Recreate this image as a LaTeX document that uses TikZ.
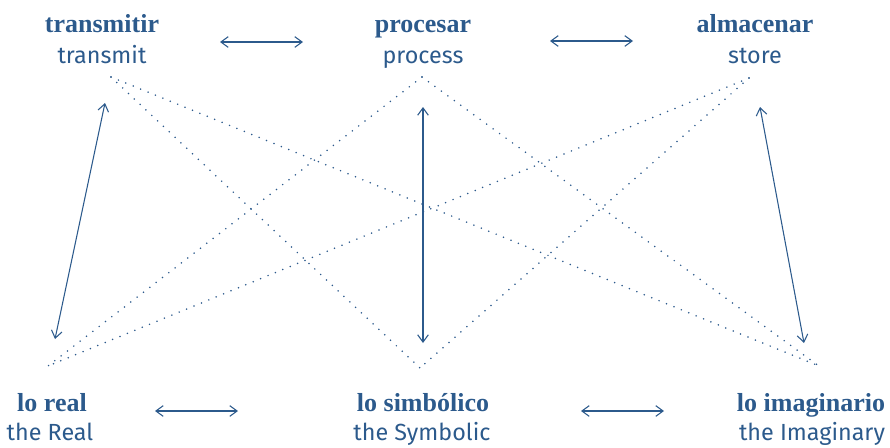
\documentclass[tikz,border=0pt]{standalone}
\usepackage{fontspec}
\setmainfont{Fira Sans}
\newfontfamily\headfont{Liberation Serif}
\usetikzlibrary{arrows.meta,positioning}
\definecolor{inkblue}{HTML}{2C5A8C}

\begin{document}
\begin{tikzpicture}[x=0.75pt,y=-0.75pt]
	\tikzstyle{every node}=[inner sep=0pt,text=inkblue]
	\tikzstyle{head}=[anchor=base,font=\headfont\bfseries\fontsize{19.5}{22}\selectfont]
	\tikzstyle{gloss}=[anchor=base,font=\fontsize{17.5}{21}\selectfont]
	\tikzstyle{link}=[draw=inkblue,line width=0.8pt,{Straight Barb[length=5.5pt,width=8pt]}-{Straight Barb[length=5.5pt,width=8pt]}]
	\tikzstyle{tie}=[draw=inkblue,line width=1.3pt,line cap=round,dash pattern=on 0pt off 6pt]
	\useasboundingbox (0,0) rectangle (890,447);
	% terms
	\node [head] (transmitir) at (102,32) {transmitir};
	\node [gloss] (transmit) at (102,63) {transmit};
	\node [head] (procesar) at (423,32) {procesar};
	\node [gloss] (process) at (423,63) {process};
	\node [head] (almacenar) at (755,32) {almacenar};
	\node [gloss] (store) at (755,63) {store};
	\node [head] (loreal) at (52,411) {lo real};
	\node [gloss] (real) at (50,440) {the Real};
	\node [head] (losimbolico) at (423,411) {lo simbólico};
	\node [gloss] (symbolic) at (422,440) {the Symbolic};
	\node [head] (loimaginario) at (811,411) {lo imaginario};
	\node [gloss] (imaginary) at (812,440) {the Imaginary};
	% meeting points of the dotted lines
	\coordinate (t) at (111,77);
	\coordinate (p) at (422,77);
	\coordinate (s) at (749,78);
	\coordinate (r) at (48,366);
	\coordinate (y) at (420,368);
	\coordinate (i) at (819,366);
	\draw [tie] (t) -- (y);
	\draw [tie] (t) -- (i);
	\draw [tie] (p) -- (r);
	\draw [tie] (p) -- (i);
	\draw [tie] (s) -- (r);
	\draw [tie] (s) -- (y);
	% arrow ends
	\coordinate (ta) at (220,42); \coordinate (tb) at (303,42);
	\coordinate (pa) at (550,41); \coordinate (pb) at (633,41);
	\coordinate (ra) at (155,411); \coordinate (rb) at (238,411);
	\coordinate (ya) at (581,411); \coordinate (yb) at (664,411);
	\coordinate (lt) at (105,103); \coordinate (lb) at (55,339);
	\coordinate (mt) at (423,107); \coordinate (mb) at (423,343);
	\coordinate (rt) at (760,107); \coordinate (rbot) at (804,343);
	\draw [link] (ta) -- (tb);
	\draw [link] (pa) -- (pb);
	\draw [link] (ra) -- (rb);
	\draw [link] (ya) -- (yb);
	\draw [link] (lt) -- (lb);
	\draw [link] (mt) -- (mb);
	\draw [link] (rt) -- (rbot);
\end{tikzpicture}
\end{document}
